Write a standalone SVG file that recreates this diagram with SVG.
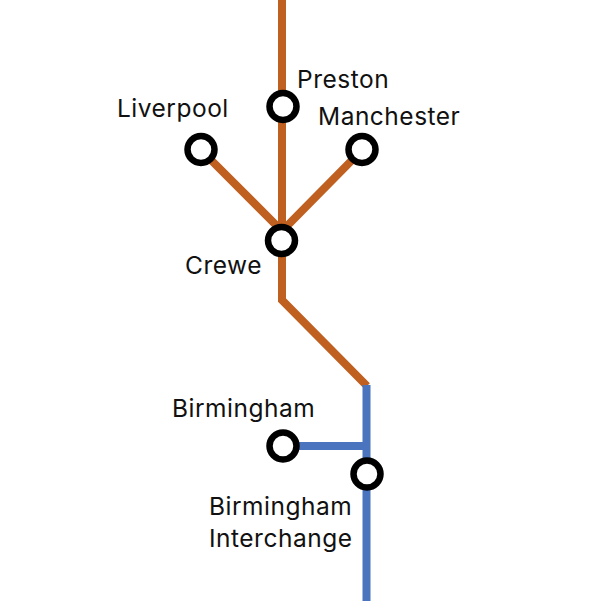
<svg xmlns="http://www.w3.org/2000/svg" width="601" height="601" viewBox="0 0 601 601">
<style>
.o{stroke:#bf5f20;stroke-width:8;fill:none}
.b{stroke:#4a74bd;stroke-width:8;fill:none}
.s{fill:#fff;stroke:#000;stroke-width:6.500}
text{font-family:Inter,"Open Sans",sans-serif;font-size:24.500px;letter-spacing:.5px;fill:#111}
</style>
<rect width="601" height="601" fill="#fff"/>
<g id="connectors">
<path class="o" d="M282 0V300L367 386"/>
<path class="o" d="M201 150L282 231L362 150"/>
<path class="b" d="M366.500 385V601"/>
<path class="b" d="M284 446H367"/>
</g>
<g id="preston"><circle class="s" cx="283" cy="106.500" r="13.500"/><text x="297" y="88">Preston</text></g>
<g id="liverpool"><circle class="s" cx="201" cy="149.500" r="13.500"/><text x="117" y="117">Liverpool</text></g>
<g id="manchester"><circle class="s" cx="362" cy="149.500" r="13.500"/><text x="318" y="125">Manchester</text></g>
<g id="crewe"><circle class="s" cx="281.500" cy="240.500" r="13.500"/><text x="185" y="274">Crewe</text></g>
<g id="birmingham"><circle class="s" cx="283" cy="446" r="13.500"/><text x="172" y="416.500">Birmingham</text></g>
<g id="birmingham-interchange"><circle class="s" cx="367" cy="474" r="13.500"/><text x="209" y="514.500">Birmingham</text><text x="209" y="547">Interchange</text></g>
</svg>
